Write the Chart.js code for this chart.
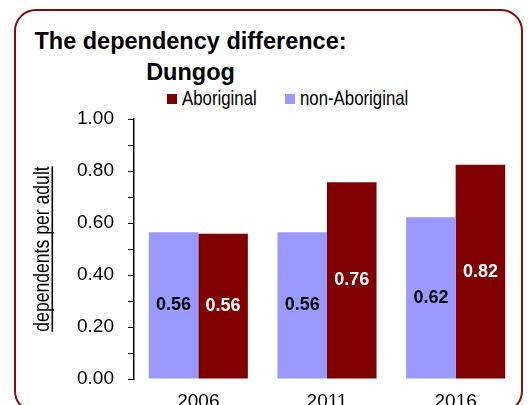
<!DOCTYPE html>
<html>
<head>
<meta charset="utf-8">
<script src="https://cdn.jsdelivr.net/npm/chart.js@4/dist/chart.umd.min.js"></script>
<style>
    html, body { margin: 0; padding: 0; width: 529px; height: 405px; overflow: hidden; background: #fff; }
    body { position: relative; font-family: "Liberation Sans", Arial, sans-serif; }
    #frame {
        position: absolute; left: 14px; top: 9px; width: 505px; height: 400px;
        border: 2px solid #8b0a0a; border-radius: 22px;
    }
    #title {
        position: absolute; left: 20px; top: 26px; width: 341px;
        text-align: center; font-weight: bold; font-size: 23.5px; line-height: 31px; color: #000;
    }
    .legend-box { position: absolute; top: 94px; width: 10px; height: 10px; }
    .legend-text {
        position: absolute; top: 87px; font-size: 21px; line-height: 21px; color: #000;
        white-space: nowrap; transform: scaleX(0.8); transform-origin: left top;
    }
    #chart-canvas { position: absolute; left: 0; top: 0; }
</style>
</head>
<body>
<div id="frame"></div>
<div id="title">The dependency difference:<br>Dungog</div>
<div class="legend-box" id="box-ab" style="left:167px"></div>
<div class="legend-text" id="txt-ab" style="left:182px"></div>
<div class="legend-box" id="box-non" style="left:285px"></div>
<div class="legend-text" id="txt-non" style="left:300px"></div>
<canvas id="chart-canvas" width="529" height="439"></canvas>
<script>
const years = ['2006', '2011', '2016'];
const nonAboriginal = [0.564, 0.564, 0.622];
const aboriginal = [0.559, 0.757, 0.824];
const seriesNames = ['non-Aboriginal', 'Aboriginal'];
const yAxisTitle = 'dependents per adult';

const COLOR_NON = '#9999ff';
const COLOR_AB = '#800000';

// value labels in the middle of each bar
const barValueLabels = {
    id: 'barValueLabels',
    afterDatasetsDraw(chart) {
        const ctx = chart.ctx;
        ctx.save();
        ctx.font = 'bold 18px "Liberation Sans", Arial, sans-serif';
        ctx.textAlign = 'center';
        ctx.textBaseline = 'middle';
        chart.data.datasets.forEach((ds, i) => {
            const meta = chart.getDatasetMeta(i);
            ctx.fillStyle = ds.labelColor;
            meta.data.forEach((bar, j) => {
                const y = (bar.y + bar.base) / 2;
                ctx.fillText(ds.data[j].toFixed(2), bar.x, y);
            });
        });
        ctx.restore();
    }
};

// narrow, underlined y axis title
const yTitle = {
    id: 'yTitle',
    afterDraw(chart) {
        const ctx = chart.ctx;
        const area = chart.chartArea;
        const cy = (area.top + area.bottom) / 2;
        ctx.save();
        ctx.translate(49, cy);
        ctx.rotate(-Math.PI / 2);
        ctx.scale(0.8, 1);
        ctx.font = '22px "Liberation Sans", Arial, sans-serif';
        ctx.fillStyle = '#000';
        ctx.textAlign = 'center';
        ctx.textBaseline = 'alphabetic';
        ctx.fillText(yAxisTitle, 0, 0);
        const w = ctx.measureText(yAxisTitle).width;
        ctx.fillRect(-w / 2, 2.5, w, 1.6);
        ctx.restore();
    }
};

function buildLegend() {
    document.getElementById('box-ab').style.background = COLOR_AB;
    document.getElementById('txt-ab').textContent = seriesNames[1];
    document.getElementById('box-non').style.background = COLOR_NON;
    document.getElementById('txt-non').textContent = seriesNames[0];
}

function drawChart() {
    Chart.defaults.font.family = '"Liberation Sans", Arial, sans-serif';
    Chart.defaults.color = '#000';

    const ctx = document.getElementById('chart-canvas').getContext('2d');
    new Chart(ctx, {
        type: 'bar',
        data: {
            labels: years,
            datasets: [{
                label: seriesNames[0],
                data: nonAboriginal,
                backgroundColor: COLOR_NON,
                labelColor: '#000',
                categoryPercentage: 0.77,
                barPercentage: 1.0
            }, {
                label: seriesNames[1],
                data: aboriginal,
                backgroundColor: COLOR_AB,
                labelColor: '#fff',
                categoryPercentage: 0.77,
                barPercentage: 1.0
            }]
        },
        options: {
            responsive: false,
            animation: false,
            layout: {
                padding: { left: 63, right: 9, top: 119, bottom: 30 }
            },
            plugins: {
                legend: { display: false },
                title: { display: false },
                tooltip: { enabled: false }
            },
            scales: {
                x: {
                    grid: { display: false },
                    border: { display: false },
                    ticks: { font: { size: 19 }, padding: 3 },
                    afterFit: (scale) => { scale.height = 30; }
                },
                y: {
                    min: 0,
                    max: 1,
                    ticks: {
                        stepSize: 0.1,
                        autoSkip: false,
                        padding: 14,
                        font: { size: 19 },
                        callback: (v) => Math.round(v * 10) % 2 === 0 ? v.toFixed(2) : ''
                    },
                    grid: {
                        drawOnChartArea: false,
                        drawTicks: true,
                        tickLength: 6,
                        color: '#000',
                        lineWidth: 1
                    },
                    border: { display: true, color: '#000', width: 1.5 }
                }
            }
        },
        plugins: [barValueLabels, yTitle]
    });
}

function init() {
    buildLegend();
    drawChart();
}

document.addEventListener('DOMContentLoaded', init);
</script>
</body>
</html>
